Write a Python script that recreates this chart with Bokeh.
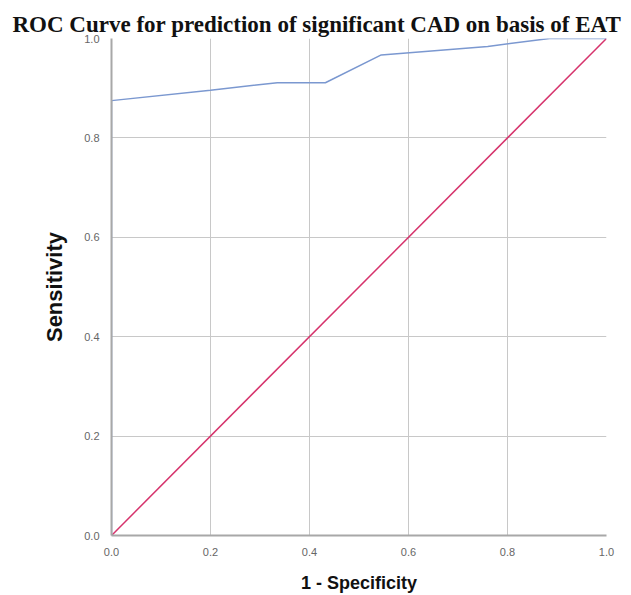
from bokeh.plotting import figure
from bokeh.models import Range1d, FixedTicker, PrintfTickFormatter
from bokeh.embed import file_html
from bokeh.resources import INLINE

# ROC curve data (1 - specificity, sensitivity)
fpr = [0.0, 0.0, 0.20, 0.335, 0.432, 0.545, 0.76, 0.885, 1.0]
tpr = [0.0, 0.875, 0.896, 0.911, 0.911, 0.967, 0.984, 1.0, 1.0]
ref_x = [0.0, 1.0]
ref_y = [0.0, 1.0]
ticks = [0.0, 0.2, 0.4, 0.6, 0.8, 1.0]

p = figure(width=631, height=595, output_backend="svg", toolbar_location=None,
           x_range=Range1d(0, 1), y_range=Range1d(0, 1),
           title="ROC Curve for prediction of significant CAD on basis of EAT",
           min_border_left=111, min_border_right=25, min_border_top=38, min_border_bottom=59)

p.title.text_font = "Liberation Serif"
p.title.text_font_style = "bold"
p.title.text_font_size = "23px"
p.title.align = "left"
p.title.offset = -99
p.title.standoff = 4
p.title.text_color = "#111111"

p.outline_line_color = None
p.background_fill_color = "white"
p.border_fill_color = "white"

for ax in (p.xaxis[0], p.yaxis[0]):
    ax.ticker = FixedTicker(ticks=ticks)
    ax.formatter = PrintfTickFormatter(format="%.1f")
    ax.major_tick_line_color = None
    ax.minor_tick_line_color = None
    ax.axis_line_color = "#a8a8a8"
    ax.axis_line_width = 2
    ax.major_label_text_font = "Liberation Sans"
    ax.major_label_text_font_size = "11px"
    ax.major_label_text_color = "#666666"
    ax.major_label_standoff = 6
    ax.axis_label_text_font = "Liberation Sans"
    ax.axis_label_text_font_style = "bold"
    ax.axis_label_text_color = "#111111"

p.xaxis[0].axis_label = "1 - Specificity"
p.xaxis[0].axis_label_text_font_size = "18px"
p.xaxis[0].axis_label_standoff = 14
p.yaxis[0].axis_label = "Sensitivity"
p.yaxis[0].axis_label_text_font_size = "22px"
p.yaxis[0].axis_label_standoff = 14

p.xgrid.ticker = FixedTicker(ticks=ticks)
p.ygrid.ticker = FixedTicker(ticks=ticks)
p.grid.grid_line_color = "#c8c8c8"
p.grid.grid_line_width = 1

p.line(ref_x, ref_y, line_color="#d6336c", line_width=1.5)
p.line(fpr, tpr, line_color="#7b98d0", line_width=1.5)

open("out.html", "w").write(file_html(p, INLINE))
